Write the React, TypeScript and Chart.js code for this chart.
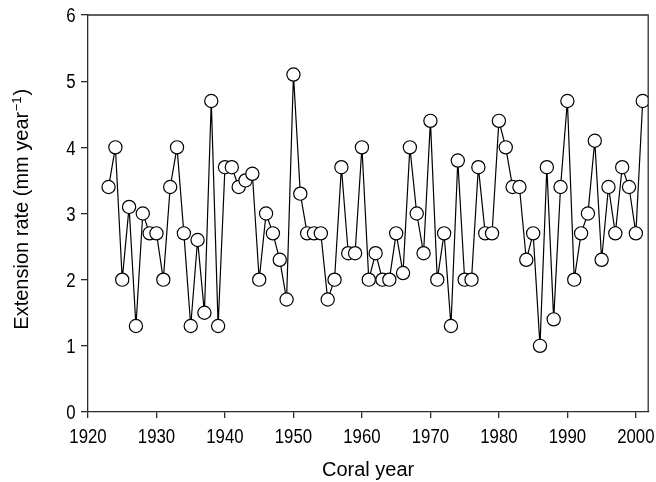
import React, { useEffect, useRef } from "react";
import { Chart, registerables } from "chart.js";

Chart.register(...registerables);

const years = [
  1923, 1924, 1925, 1926, 1927, 1928, 1929, 1930, 1931, 1932,
  1933, 1934, 1935, 1936, 1937, 1938, 1939, 1940, 1941, 1942,
  1943, 1944, 1945, 1946, 1947, 1948, 1949, 1950, 1951, 1952,
  1953, 1954, 1955, 1956, 1957, 1958, 1959, 1960, 1961, 1962,
  1963, 1964, 1965, 1966, 1967, 1968, 1969, 1970, 1971, 1972,
  1973, 1974, 1975, 1976, 1977, 1978, 1979, 1980, 1981, 1982,
  1983, 1984, 1985, 1986, 1987, 1988, 1989, 1990, 1991, 1992,
  1993, 1994, 1995, 1996, 1997, 1998, 1999, 2000, 2001,
];

const extensionRate = [
  3.4, 4.0, 2.0, 3.1, 1.3, 3.0, 2.7, 2.7, 2.0, 3.4,
  4.0, 2.7, 1.3, 2.6, 1.5, 4.7, 1.3, 3.7, 3.7, 3.4,
  3.5, 3.6, 2.0, 3.0, 2.7, 2.3, 1.7, 5.1, 3.3, 2.7,
  2.7, 2.7, 1.7, 2.0, 3.7, 2.4, 2.4, 4.0, 2.0, 2.4,
  2.0, 2.0, 2.7, 2.1, 4.0, 3.0, 2.4, 4.4, 2.0, 2.7,
  1.3, 3.8, 2.0, 2.0, 3.7, 2.7, 2.7, 4.4, 4.0, 3.4,
  3.4, 2.3, 2.7, 1.0, 3.7, 1.4, 3.4, 4.7, 2.0, 2.7,
  3.0, 4.1, 2.3, 3.4, 2.7, 3.7, 3.4, 2.7, 4.7,
];

const xTickValues = [1920, 1930, 1940, 1950, 1960, 1970, 1980, 1990, 2000];
const yTickValues = [0, 1, 2, 3, 4, 5, 6];

const xTitle = "Coral year";
const yTitleMain = "Extension rate (mm year";
const yTitleSup = "\u22121";
const yTitleEnd = ")";

const AXIS_COLOR = "#2b2b2b";
const FONT = "'Liberation Sans', Arial, sans-serif";

function drawCondensed(ctx: CanvasRenderingContext2D, text: string, x: number, y: number, align: CanvasTextAlign) {
  ctx.save();
  ctx.translate(x, y);
  ctx.scale(0.84, 1);
  ctx.textAlign = align;
  ctx.textBaseline = "alphabetic";
  ctx.fillText(text, 0, 0);
  ctx.restore();
}

const decorPlugin = {
  id: "decor",
  afterDatasetsDraw(chart: any) {
    const { ctx, chartArea, scales } = chart;
    ctx.save();
    // top and right frame lines
    ctx.strokeStyle = AXIS_COLOR;
    ctx.lineWidth = 1.3;
    ctx.beginPath();
    ctx.moveTo(chartArea.left, chartArea.top);
    ctx.lineTo(chartArea.right, chartArea.top);
    ctx.lineTo(chartArea.right, chartArea.bottom);
    ctx.stroke();

    // tick labels (narrow face, drawn from the scale positions)
    ctx.fillStyle = "#000";
    ctx.font = `20px ${FONT}`;
    xTickValues.forEach((v) => {
      const px = scales.x.getPixelForValue(v);
      drawCondensed(ctx, String(v), px, chartArea.bottom + 30.7, "center");
    });
    yTickValues.forEach((v) => {
      const py = scales.y.getPixelForValue(v);
      drawCondensed(ctx, String(v), chartArea.left - 12.5, py + 7.2, "right");
    });

    // y axis title with superscript
    const mainFont = `20px ${FONT}`;
    const supFont = `13px ${FONT}`;
    ctx.font = mainFont;
    const wMain = ctx.measureText(yTitleMain).width;
    const wEnd = ctx.measureText(yTitleEnd).width;
    ctx.font = supFont;
    const wSup = ctx.measureText(yTitleSup).width + 1;
    const total = wMain + wSup + wEnd;
    const cy = (chartArea.top + chartArea.bottom) / 2 - 4;
    ctx.translate(27.5, cy);
    ctx.rotate(-Math.PI / 2);
    ctx.textAlign = "left";
    ctx.textBaseline = "alphabetic";
    let cx = -total / 2;
    ctx.font = mainFont;
    ctx.fillText(yTitleMain, cx, 0);
    cx += wMain + 0.5;
    ctx.font = supFont;
    ctx.fillText(yTitleSup, cx, -7);
    cx += wSup;
    ctx.font = mainFont;
    ctx.fillText(yTitleEnd, cx, 0);
    ctx.restore();
  },
};

export default function App() {
  const canvasRef = useRef<HTMLCanvasElement | null>(null);

  useEffect(() => {
    const canvas = canvasRef.current;
    if (!canvas) return;
    const points = years.map((yr, i) => ({ x: yr, y: extensionRate[i] }));
    const chart = new Chart(canvas, {
      type: "line",
      data: {
        datasets: [
          {
            data: points,
            borderColor: "#000",
            borderWidth: 1.2,
            tension: 0,
            pointRadius: 6.6,
            pointBackgroundColor: "#fff",
            pointBorderColor: "#000",
            pointBorderWidth: 1.2,
          },
        ],
      },
      options: {
        responsive: false,
        animation: false,
        devicePixelRatio: 1,
        layout: { padding: { top: 15, right: 1.7, left: 0, bottom: 0 } },
        plugins: {
          legend: { display: false },
          tooltip: { enabled: false },
        },
        scales: {
          x: {
            type: "linear",
            min: 1920,
            max: 2001.8,
            afterBuildTicks: (scale: any) => {
              scale.ticks = xTickValues.map((v) => ({ value: v }));
            },
            afterFit: (scale: any) => {
              scale.height = 70;
              scale.paddingLeft = 0;
              scale.paddingRight = 0;
            },
            grid: {
              drawOnChartArea: false,
              drawTicks: true,
              tickLength: 6,
              color: AXIS_COLOR,
              lineWidth: 1.3,
            },
            border: { display: true, color: AXIS_COLOR, width: 1.3 },
            ticks: { display: false, autoSkip: false, maxRotation: 0 },
            title: {
              display: true,
              text: xTitle,
              color: "#000",
              font: { family: FONT, size: 20 },
              padding: { top: 0, bottom: 0 },
            },
          },
          y: {
            type: "linear",
            min: 0,
            max: 6,
            afterBuildTicks: (scale: any) => {
              scale.ticks = yTickValues.map((v) => ({ value: v }));
            },
            afterFit: (scale: any) => {
              scale.width = 88;
              scale.paddingTop = 0;
              scale.paddingBottom = 0;
            },
            grid: {
              drawOnChartArea: false,
              drawTicks: true,
              tickLength: 7,
              color: AXIS_COLOR,
              lineWidth: 1.3,
            },
            border: { display: true, color: AXIS_COLOR, width: 1.3 },
            ticks: { display: false },
            title: { display: false },
          },
        },
      },
      plugins: [decorPlugin],
    });
    return () => chart.destroy();
  }, []);

  return (
    <div style={{ position: "fixed", left: 0, top: 0, width: 656, height: 482, background: "#fff" }}>
      <canvas ref={canvasRef} width={656} height={482} style={{ width: 656, height: 482, display: "block" }} />
    </div>
  );
}
